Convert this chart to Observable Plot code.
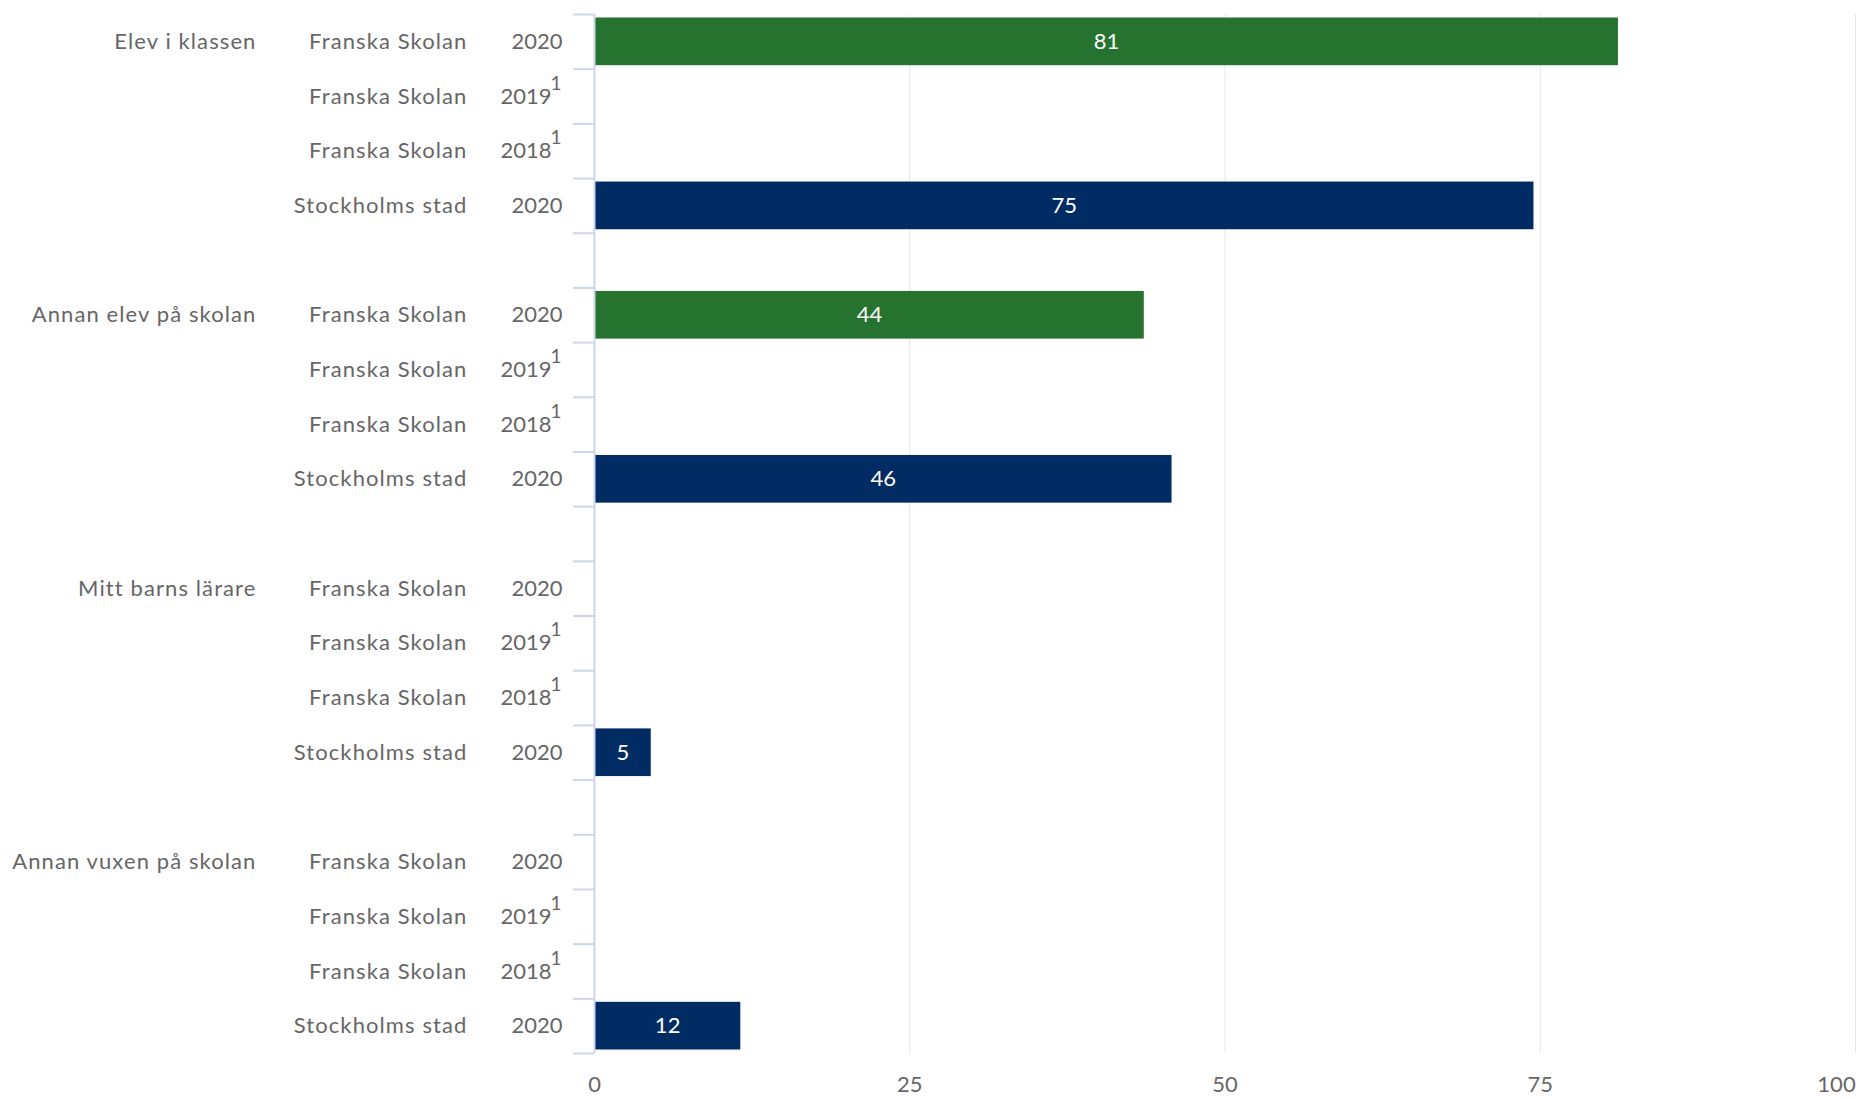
<!DOCTYPE html>
<html>
<head>
<meta charset="utf-8">
<script src="https://cdn.jsdelivr.net/npm/d3@7"></script>
<script src="https://cdn.jsdelivr.net/npm/@observablehq/plot@0.6"></script>
<style>
  html, body { margin: 0; padding: 0; background: #fff; overflow: hidden; }
  #chart svg { display: block; }
  #chart g[aria-description="cat"] text { letter-spacing: 1.1px; }
</style>
</head>
<body>
<div id="chart"></div>
<script>
// Categories
const groups = ["Elev i klassen", "Annan elev på skolan", "Mitt barns lärare", "Annan vuxen på skolan"];
const units = ["Franska Skolan", "Franska Skolan", "Franska Skolan", "Stockholms stad"];
const years = ["2020", "2019", "2018", "2020"];
const footnotes = ["", "1", "1", ""];
// Series values (per group)
const franska2020 = [81.2, 43.6, null, null];
const franska2019 = [null, null, null, null];
const franska2018 = [null, null, null, null];
const stockholm2020 = [74.5, 45.8, 4.5, 11.6];
const series = [franska2020, franska2019, franska2018, stockholm2020];
// Tick labels
const xTicks = [0, 25, 50, 75, 100];
const unitDomain = ["Franska Skolan", "Stockholms stad"];
const unitColors = ["#26732f", "#002c63"];

const rowsPerGroup = units.length + 1; // including gap row
const nRows = groups.length * rowsPerGroup - 1;

const rows = [];
groups.forEach((g, gi) => {
  units.forEach((u, ri) => {
    rows.push({
      group: g, unit: u, year: years[ri], note: footnotes[ri],
      row: gi * rowsPerGroup + ri,
      value: series[ri][gi]
    });
  });
});
const bars = rows.filter(d => d.value != null);
const boundaries = [];
groups.forEach((g, gi) => {
  for (let k = 0; k <= units.length; k++) boundaries.push(gi * rowsPerGroup + k);
});
const groupRows = groups.map((g, gi) => ({group: g, row: gi * rowsPerGroup}));

const grey = "#666666";
const fs = 22;
const fmt = d3.format(".0f");

const chart = Plot.plot({
  width: 1858,
  height: 1099,
  marginLeft: 594,
  marginRight: 3,
  marginTop: 14,
  marginBottom: 46,
  style: {fontFamily: "Lato, sans-serif", background: "#fff"},
  x: {type: "linear", domain: [0, 100], axis: null},
  y: {type: "linear", domain: [0, nRows], reverse: true, axis: null},
  color: {domain: unitDomain, range: unitColors},
  marks: [
    Plot.gridX(xTicks.filter(d => d > 0), {stroke: "#e6e6e6", strokeOpacity: 1, strokeWidth: 1}),
    Plot.rect(bars, {x1: 0, x2: "value", y1: "row", y2: d => d.row + 1, fill: "unit", insetTop: 3.5, insetBottom: 3.5}),
    Plot.ruleX([0], {stroke: "#ccd6eb", strokeWidth: 2}),
    Plot.axisY({ticks: boundaries, tickSize: 21, tickFormat: () => "", stroke: "#ccd6eb", strokeWidth: 2, label: null}),
    Plot.axisX(xTicks.slice(0, -1), {tickSize: 0, tickPadding: 23, fontSize: 22, fill: grey, label: null}),
    Plot.axisX(xTicks.slice(-1), {tickSize: 0, tickPadding: 23, fontSize: 22, fill: grey, label: null, dx: -19}),
    Plot.text(bars, {x: d => d.value / 2, y: d => d.row + 0.5, text: d => fmt(d.value), fill: "white", fontSize: fs}),
    Plot.text(groupRows, {frameAnchor: "left", y: d => d.row + 0.5, text: "group", textAnchor: "end", dx: -338, fill: grey, fontSize: fs, ariaDescription: "cat"}),
    Plot.text(rows, {frameAnchor: "left", y: d => d.row + 0.5, text: "unit", textAnchor: "end", dx: -127, fill: grey, fontSize: fs, ariaDescription: "cat"}),
    Plot.text(rows.filter(d => !d.note), {frameAnchor: "left", y: d => d.row + 0.5, text: "year", textAnchor: "end", dx: -32, fill: grey, fontSize: fs}),
    Plot.text(rows.filter(d => d.note), {frameAnchor: "left", y: d => d.row + 0.5, text: "year", textAnchor: "end", dx: -43, fill: grey, fontSize: fs}),
    Plot.text(rows.filter(d => d.note), {frameAnchor: "left", y: d => d.row + 0.5, text: "note", textAnchor: "end", dx: -33, dy: -13, fill: grey, fontSize: 19})
  ]
});
document.getElementById("chart").appendChild(chart);
</script>
</body>
</html>
